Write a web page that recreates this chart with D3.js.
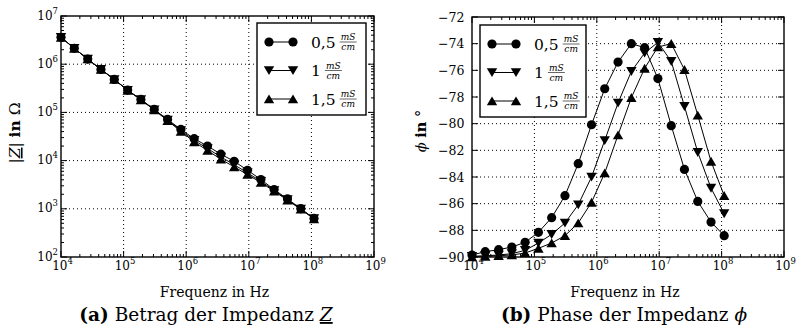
<!DOCTYPE html>
<html>
<head>
<meta charset="UTF-8">
<style>
  body { margin: 0; background: white; }
  svg { display: block; font-family: "DejaVu Serif", "Liberation Serif", serif; }
</style>
</head>
<body>
<svg></svg>
<script src="https://d3js.org/d3.v7.min.js"></script>
<script>
const width = 796, height = 336;

// measurement frequencies in Hz (20 log-spaced points)
const freq = [1.00e4, 1.63e4, 2.67e4, 4.35e4, 7.10e4, 1.16e5, 1.89e5, 3.09e5, 5.04e5, 8.23e5,
              1.34e6, 2.19e6, 3.58e6, 5.84e6, 9.53e6, 1.56e7, 2.54e7, 4.15e7, 6.77e7, 1.10e8];

// |Z| in Ohm
const z05 = [3.61e6, 2.13e6, 1.28e6, 7.80e5, 4.84e5, 2.90e5, 1.86e5, 1.15e5, 7.14e4, 4.43e4,
             2.85e4, 2.00e4, 1.36e4, 9.66e3, 6.31e3, 4.05e3, 2.51e3, 1.60e3, 1.01e3, 631];
const z10 = [3.61e6, 2.13e6, 1.28e6, 7.80e5, 4.83e5, 2.88e5, 1.84e5, 1.135e5, 6.95e4, 4.22e4,
             2.63e4, 1.78e4, 1.19e4, 8.22e3, 5.56e3, 3.72e3, 2.40e3, 1.55e3, 989, 624];
const z15 = [3.61e6, 2.13e6, 1.28e6, 7.78e5, 4.82e5, 2.87e5, 1.82e5, 1.12e5, 6.76e4, 4.03e4,
             2.45e4, 1.62e4, 1.07e4, 7.41e3, 5.13e3, 3.51e3, 2.32e3, 1.51e3, 977, 617];

// phase in degrees
const phi05 = [-89.85, -89.6, -89.45, -89.25, -88.9, -88.15, -87.05, -85.4, -83.0, -80.08,
               -77.38, -75.38, -74.0, -74.3, -76.62, -80.15, -83.43, -85.83, -87.38, -88.4];
const phi10 = [-89.95, -89.9, -89.85, -89.75, -89.5, -88.95, -88.3, -87.45, -86.08, -84.0,
               -81.26, -78.45, -76.08, -74.7, -73.9, -75.33, -78.7, -82.15, -84.83, -86.75];
const phi15 = [-90.0, -89.95, -89.9, -89.85, -89.7, -89.35, -88.95, -88.4, -87.45, -85.9,
               -83.7, -80.85, -78.05, -75.85, -74.25, -74.0, -75.95, -79.37, -82.83, -85.4];

const legendLabels = ["0,5", "1", "1,5"];
const markerTypes = ["circle", "down", "up"];

const xExps = [4, 5, 6, 7, 8, 9];
const zExps = [2, 3, 4, 5, 6, 7];
const phiTicks = [-90, -88, -86, -84, -82, -80, -78, -76, -74, -72];

const svg = d3.select("svg")
  .attr("width", width).attr("height", height)
  .attr("viewBox", `0 0 ${width} ${height}`);

svg.append("rect").attr("width", width).attr("height", height).attr("fill", "white");

function marker(g, type, x, y) {
  if (type === "circle") {
    g.append("circle").attr("cx", x).attr("cy", y).attr("r", 4.6).attr("fill", "black");
  } else {
    const s = type === "down" ? 1 : -1;
    g.append("path")
      .attr("d", `M${x - 5.2},${y - 4.3 * s} L${x + 5.2},${y - 4.3 * s} L${x},${y + 4.6 * s} Z`)
      .attr("fill", "black");
  }
}

// label "10^e"
function powLabel(sel, e) {
  sel.append("tspan").text("10");
  sel.append("tspan").attr("font-size", 8.5).attr("dy", -6).text(e);
}

function drawPanel(cfg) {
  const g = svg.append("g");
  const [x0, x1, y0, y1] = cfg.frame;
  const x = d3.scaleLog().domain([1e4, 1e9]).range([x0, x1]);
  const y = cfg.logY
    ? d3.scaleLog().domain([1e2, 1e7]).range([y1, y0])
    : d3.scaleLinear().domain([-90, -72]).range([y1, y0]);

  const yMajor = cfg.logY ? zExps.map(e => Math.pow(10, e)) : phiTicks;
  const xMajor = xExps.map(e => Math.pow(10, e));

  // grid
  const grid = g.append("g").attr("stroke", "black").attr("stroke-width", 1)
    .attr("stroke-dasharray", "1,3");
  xMajor.slice(1, -1).forEach(v => {
    grid.append("line").attr("x1", x(v)).attr("x2", x(v)).attr("y1", y0).attr("y2", y1);
  });
  yMajor.slice(1, -1).forEach(v => {
    grid.append("line").attr("x1", x0).attr("x2", x1).attr("y1", y(v)).attr("y2", y(v));
  });

  // ticks
  const ticks = g.append("g").attr("stroke", "black").attr("stroke-width", 1);
  const xMinor = [];
  xExps.slice(0, -1).forEach(e => { for (let d = 2; d <= 9; d++) xMinor.push(d * Math.pow(10, e)); });
  xMajor.forEach(v => {
    ticks.append("line").attr("x1", x(v)).attr("x2", x(v)).attr("y1", y1).attr("y2", y1 - 6);
    ticks.append("line").attr("x1", x(v)).attr("x2", x(v)).attr("y1", y0).attr("y2", y0 + 6);
  });
  xMinor.forEach(v => {
    ticks.append("line").attr("x1", x(v)).attr("x2", x(v)).attr("y1", y1).attr("y2", y1 - 3);
    ticks.append("line").attr("x1", x(v)).attr("x2", x(v)).attr("y1", y0).attr("y2", y0 + 3);
  });
  yMajor.forEach(v => {
    ticks.append("line").attr("x1", x0).attr("x2", x0 + 6).attr("y1", y(v)).attr("y2", y(v));
    ticks.append("line").attr("x1", x1).attr("x2", x1 - 6).attr("y1", y(v)).attr("y2", y(v));
  });
  if (cfg.logY) {
    const yMinor = [];
    zExps.slice(0, -1).forEach(e => { for (let d = 2; d <= 9; d++) yMinor.push(d * Math.pow(10, e)); });
    yMinor.forEach(v => {
      ticks.append("line").attr("x1", x0).attr("x2", x0 + 3).attr("y1", y(v)).attr("y2", y(v));
      ticks.append("line").attr("x1", x1).attr("x2", x1 - 3).attr("y1", y(v)).attr("y2", y(v));
    });
  }

  // tick labels
  xExps.forEach(e => {
    const t = g.append("text").attr("x", x(Math.pow(10, e)) + 1.5).attr("y", y1 + 12.5)
      .attr("text-anchor", "middle").attr("font-size", 12);
    powLabel(t, e);
  });
  if (cfg.logY) {
    zExps.forEach(e => {
      const t = g.append("text").attr("x", x0 - 3).attr("y", y(Math.pow(10, e)) + 3.5)
        .attr("text-anchor", "end").attr("font-size", 12);
      powLabel(t, e);
    });
  } else {
    phiTicks.forEach(v => {
      g.append("text").attr("x", x0 - 7.5).attr("y", y(v) + 4.5)
        .attr("text-anchor", "end").attr("font-size", 12.5)
        .text(String(v).replace("-", "\u2212"));
    });
  }

  // series
  const line = d3.line().x(d => x(d[0])).y(d => y(d[1]));
  cfg.series.forEach((vals, k) => {
    const pts = freq.map((f, i) => [f, vals[i]]);
    g.append("path").attr("d", line(pts)).attr("fill", "none")
      .attr("stroke", "black").attr("stroke-width", 1);
    const mg = g.append("g");
    pts.forEach(p => marker(mg, markerTypes[k], x(p[0]), y(p[1])));
  });

  // frame
  g.append("rect").attr("x", x0).attr("y", y0).attr("width", x1 - x0).attr("height", y1 - y0)
    .attr("fill", "none").attr("stroke", "black").attr("stroke-width", 1.4);

  // legend
  const [lx, ly, lw, lh] = cfg.legend;
  const lg = g.append("g");
  lg.append("rect").attr("x", lx).attr("y", ly).attr("width", lw).attr("height", lh)
    .attr("fill", "white").attr("stroke", "black").attr("stroke-width", 1.4);
  legendLabels.forEach((lab, k) => {
    const yy = ly + 19 + k * 28.5;
    lg.append("line").attr("x1", lx + 12).attr("x2", lx + 36).attr("y1", yy).attr("y2", yy)
      .attr("stroke", "black").attr("stroke-width", 1);
    marker(lg, markerTypes[k], lx + 12, yy);
    marker(lg, markerTypes[k], lx + 36, yy);
    const t = lg.append("text").attr("x", lx + 54).attr("y", yy + 5.5).attr("font-size", 15.5).text(lab);
    const tw = t.node().getComputedTextLength();
    const fx = lx + 54 + tw + 4;
    lg.append("text").attr("x", fx + 8.5).attr("y", yy - 2).attr("font-size", 9)
      .attr("font-style", "italic").attr("text-anchor", "middle").text("mS");
    lg.append("line").attr("x1", fx).attr("x2", fx + 17).attr("y1", yy).attr("y2", yy)
      .attr("stroke", "black").attr("stroke-width", 0.6);
    lg.append("text").attr("x", fx + 8.5).attr("y", yy + 8).attr("font-size", 9)
      .attr("font-style", "italic").attr("text-anchor", "middle").text("cm");
  });

  // x label
  g.append("text").attr("x", (x0 + x1) / 2 - 3).attr("y", y1 + 40).attr("text-anchor", "middle")
    .attr("font-size", 14).text("Frequenz in Hz");

  // y label
  const yl = g.append("text")
    .attr("transform", `translate(${cfg.yLabelX},${cfg.yLabelY}) rotate(-90)`)
    .attr("text-anchor", "middle").attr("font-size", cfg.yLabelSize);
  cfg.yLabel(yl);

  // caption
  const cap = g.append("text").attr("x", cfg.captionX).attr("y", y1 + 64)
    .attr("text-anchor", "middle").attr("font-size", 18.5);
  cap.append("tspan").attr("font-weight", "bold").text("(" + cfg.letter + ")");
  cap.append("tspan").text(" " + cfg.caption + " ");
  cap.append("tspan").attr("font-style", "italic").text(cfg.symbol)
    .attr("text-decoration", cfg.underline ? "underline" : null);
}

drawPanel({
  frame: [61, 374, 16, 257],
  logY: true,
  series: [z05, z10, z15],
  legend: [257, 23, 109, 92],
  yLabelX: 20,
  yLabelY: 133,
  yLabelSize: 15.5,
  yLabel: t => {
    t.append("tspan").text("|");
    t.append("tspan").attr("font-style", "italic").attr("text-decoration", "underline").text("Z");
    t.append("tspan").text("| ");
    t.append("tspan").attr("font-weight", "bold").text("in");
    t.append("tspan").text(" \u03A9");
  },
  captionX: 206,
  letter: "a",
  caption: "Betrag der Impedanz",
  symbol: "Z",
  underline: true
});

drawPanel({
  frame: [472, 784, 17, 257],
  logY: false,
  series: [phi05, phi10, phi15],
  legend: [480, 25, 106, 92],
  yLabelX: 426,
  yLabelY: 131,
  yLabelSize: 14.5,
  yLabel: t => {
    t.append("tspan").attr("font-style", "italic").text("\u03D5");
    t.append("tspan").text(" ");
    t.append("tspan").attr("font-weight", "bold").text("in");
    t.append("tspan").text(" \u00B0");
  },
  captionX: 624,
  letter: "b",
  caption: "Phase der Impedanz",
  symbol: "\u03D5",
  underline: false
});
</script>
</body>
</html>
